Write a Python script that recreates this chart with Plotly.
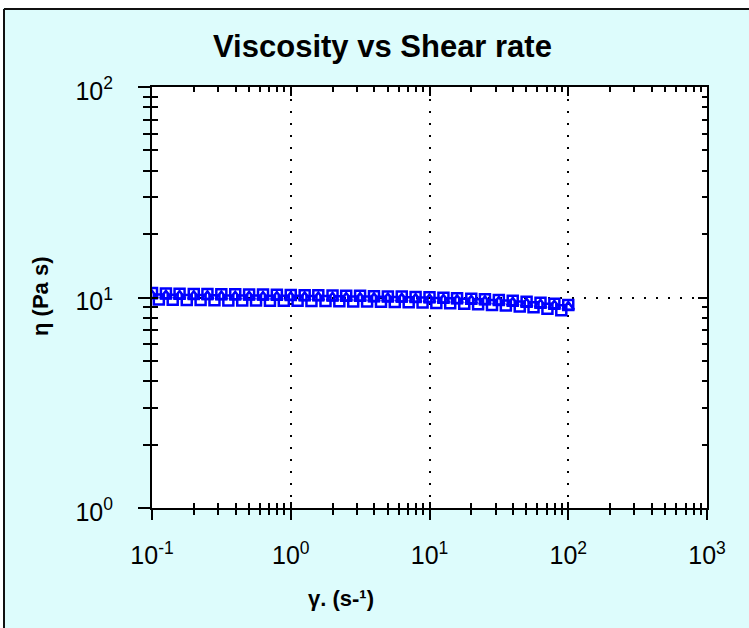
import plotly.graph_objects as go

# Shear rate (1/s) and viscosity (Pa s) readings
shear_rate_a = [0.1, 0.126, 0.158, 0.2, 0.251, 0.316, 0.398, 0.501, 0.631, 0.794,
                1, 1.26, 1.58, 2, 2.51, 3.16, 3.98, 5.01, 6.31, 7.94,
                10, 12.6, 15.8, 20, 25.1, 31.6, 39.8, 50.1, 63.1, 79.4, 100]
viscosity_a = [10.5, 10.45, 10.42, 10.4, 10.38, 10.36, 10.35, 10.33, 10.32, 10.3,
               10.28, 10.26, 10.24, 10.22, 10.2, 10.18, 10.15, 10.12, 10.1, 10.06,
               10.02, 9.97, 9.92, 9.86, 9.8, 9.72, 9.64, 9.55, 9.45, 9.35, 9.22]
viscosity_b = [10.2, 10.18, 10.16, 10.14, 10.12, 10.1, 10.08, 10.07, 10.06, 10.05,
               10.03, 10.01, 9.99, 9.97, 9.95, 9.93, 9.9, 9.88, 9.85, 9.82,
               9.78, 9.74, 9.69, 9.64, 9.58, 9.51, 9.43, 9.34, 9.24, 9.13, 9.0]
shear_rate_c = [0.112, 0.141, 0.178, 0.224, 0.282, 0.355, 0.447, 0.562, 0.708, 0.891,
                1.12, 1.41, 1.78, 2.24, 2.82, 3.55, 4.47, 5.62, 7.08, 8.91,
                11.2, 14.1, 17.8, 22.4, 28.2, 35.5, 44.7, 56.2, 70.8, 89.1]
viscosity_c = [9.78, 9.76, 9.74, 9.72, 9.7, 9.69, 9.68, 9.67, 9.66, 9.65,
               9.64, 9.63, 9.62, 9.6, 9.58, 9.56, 9.54, 9.52, 9.49, 9.46,
               9.42, 9.38, 9.33, 9.28, 9.22, 9.15, 9.07, 8.98, 8.85, 8.7]

# Decade ticks and their labels
x_tick_vals = [0.1, 1, 10, 100, 1000]
x_tick_text = ["10<sup>-1</sup>", "10<sup>0</sup>", "10<sup>1</sup>",
               "10<sup>2</sup>", "10<sup>3</sup>"]
y_tick_vals = [1, 10, 100]
y_tick_text = ["10<sup>0</sup>", "10<sup>1</sup>", "10<sup>2</sup>"]

x_range_log = [-1, 3]
y_range_log = [0, 2]

BLUE = "#0000ff"
BG = "#ddfcfc"
FONT = "Liberation Sans, Arial, sans-serif"

marker_style = dict(size=10, color=BLUE, line=dict(width=2.5, color=BLUE))

fig = go.Figure()
fig.add_trace(go.Scatter(x=shear_rate_a, y=viscosity_a, mode="markers",
                         marker=dict(symbol="square-open", **marker_style)))
fig.add_trace(go.Scatter(x=shear_rate_a, y=viscosity_b, mode="markers",
                         marker=dict(symbol="triangle-up-open", **marker_style)))
fig.add_trace(go.Scatter(x=shear_rate_c, y=viscosity_c, mode="markers",
                         marker=dict(symbol="square-open", **marker_style)))
# empty traces that carry the extra tick-only axes
fig.add_trace(go.Scatter(x=[], y=[], xaxis="x2", yaxis="y2", hoverinfo="skip"))
fig.add_trace(go.Scatter(x=[], y=[], xaxis="x3", yaxis="y3", hoverinfo="skip"))

tick_font = dict(family=FONT, size=25, color="black")


def minor(direction, length):
    return dict(ticks=direction, ticklen=length, tickwidth=1.5, tickcolor="black",
                dtick="D1", showgrid=False)


grid = dict(showgrid=True, gridcolor="black", gridwidth=2, griddash="2px,10px")

fig.update_layout(
    width=749, height=628,
    margin=dict(l=152, r=42, t=87, b=120),
    paper_bgcolor=BG, plot_bgcolor="white",
    showlegend=False,
    font=dict(family=FONT),
    xaxis=dict(type="log", range=x_range_log, tickmode="array",
               tickvals=x_tick_vals, ticktext=x_tick_text,
               ticks="outside", ticklen=10, tickwidth=1.5, tickcolor="black",
               minor=minor("outside", 5), ticklabelstandoff=14,
               showline=True, linecolor="black", linewidth=2, zeroline=False,
               tickfont=tick_font, **grid),
    xaxis2=dict(type="log", range=x_range_log, dtick=1, overlaying="x", anchor="y2",
                side="bottom", ticks="inside", ticklen=6, tickwidth=1.5,
                tickcolor="black", minor=minor("inside", 5), showticklabels=False,
                showgrid=False, showline=False, zeroline=False),
    xaxis3=dict(type="log", range=x_range_log, dtick=1, overlaying="x", anchor="y3",
                side="top", ticks="inside", ticklen=9, tickwidth=1.5,
                tickcolor="black", minor=minor("inside", 5), showticklabels=False,
                showgrid=False, showline=True, linecolor="black", linewidth=2,
                zeroline=False),
    yaxis=dict(type="log", range=y_range_log, tickmode="array",
               tickvals=y_tick_vals, ticktext=y_tick_text,
               ticks="outside", ticklen=12, tickwidth=1.5, tickcolor="black",
               minor=minor("outside", 7), ticklabelstandoff=20, ticklabelshift=4,
               showline=True, linecolor="black", linewidth=2, zeroline=False,
               tickfont=tick_font, **grid),
    yaxis2=dict(type="log", range=y_range_log, dtick=1, overlaying="y", anchor="x",
                side="left", ticks="inside", ticklen=6, tickwidth=1.5,
                tickcolor="black", minor=minor("inside", 6), showticklabels=False,
                showgrid=False, showline=False, zeroline=False),
    yaxis3=dict(type="log", range=y_range_log, dtick=1, overlaying="y", anchor="x",
                side="right", ticks="inside", ticklen=9, tickwidth=1.5,
                tickcolor="black", minor=minor("inside", 5), showticklabels=False,
                showgrid=False, showline=True, linecolor="black", linewidth=2,
                zeroline=False),
)

# plot-area size in pixels, used to place texts and the frame in paper units
L, T, W, H = 152, 87, 555, 421


def px(x):
    return (x - L) / W


def py(y):
    return (T + H - y) / H


def label(text, x, y, size, angle=0):
    fig.add_annotation(text=text, x=px(x), y=py(y), xref="paper", yref="paper",
                       xanchor="center", yanchor="middle", showarrow=False,
                       textangle=angle, font=dict(family=FONT, size=size, color="black"))


label("<b>Viscosity vs Shear rate</b>", 382, 47, 31)
label("<b>γ. (s-¹)</b>", 341, 598, 22)
label("<b>η (Pa s)</b>", 40, 297, 22, angle=-90)

# white margin outside the frame, then the frame lines
fig.add_shape(type="rect", xref="paper", yref="paper", x0=-1, x1=2, y0=py(8), y1=2,
              fillcolor="white", line=dict(width=0), layer="below")
fig.add_shape(type="rect", xref="paper", yref="paper", x0=-1, x1=px(3), y0=-1, y1=2,
              fillcolor="white", line=dict(width=0), layer="below")
fig.add_shape(type="line", xref="paper", yref="paper", x0=px(4), x1=2, y0=py(9), y1=py(9),
              line=dict(color="#111111", width=2))
fig.add_shape(type="line", xref="paper", yref="paper", x0=px(4), x1=px(4), y0=py(9), y1=-1,
              line=dict(color="#111111", width=2))

fig.write_html("out.html")
